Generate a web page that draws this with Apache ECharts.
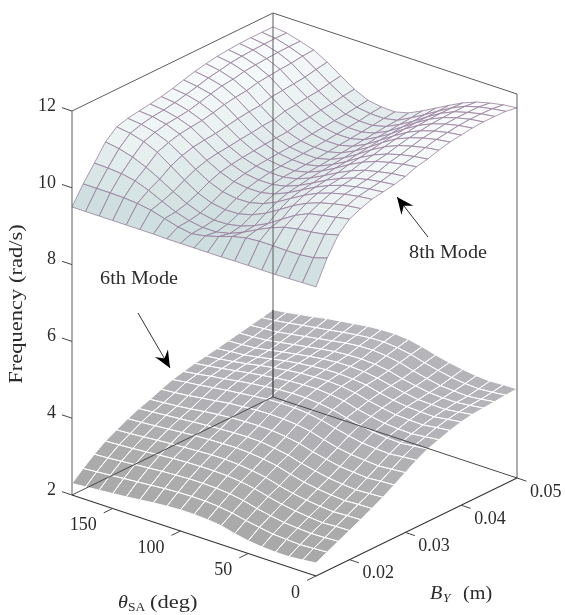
<!DOCTYPE html>
<html>
<head>
<meta charset="utf-8">
<title>Frequency surfaces</title>
<script src="https://cdn.jsdelivr.net/npm/echarts@6/dist/echarts.min.js"></script>
<style>
html,body{margin:0;padding:0;background:#fff}
#main{width:565px;height:615px}
</style>
</head>
<body>
<div id="main"></div>
<script>
// grid of the two surfaces
var thetaValues = [0,10,20,30,40,50,60,70,80,90,100,110,120,130,140,150,160,170,180];
var byValues = [0.014,0.016,0.018,0.02,0.022,0.024,0.026,0.028,0.03,0.032,0.034,0.036,0.038,0.04,0.042,0.044,0.046,0.048,0.05];

// frequency, one row per byValues entry, one column per thetaValues entry
var mode8 = [
[9.53,9.52,9.51,9.5,9.5,9.5,9.5,9.49,9.49,9.49,9.49,9.49,9.5,9.5,9.5,9.5,9.5,9.5,9.5],
[10.14,10.03,9.99,9.98,9.99,9.99,9.96,9.88,9.76,9.66,9.6,9.66,9.76,9.86,9.92,9.95,9.96,9.96,9.96],
[10.6,10.5,10.44,10.4,10.33,10.2,10.03,9.85,9.7,9.62,9.62,9.68,9.79,9.95,10.12,10.25,10.32,10.35,10.36],
[10.87,10.8,10.73,10.66,10.5,10.28,10.05,9.88,9.75,9.68,9.67,9.74,9.87,10.06,10.27,10.46,10.61,10.71,10.77],
[11.0,10.96,10.89,10.8,10.67,10.49,10.27,10.06,9.9,9.81,9.8,9.86,10.0,10.22,10.47,10.71,10.87,10.97,11.02],
[11.1,11.06,11.0,10.91,10.79,10.62,10.42,10.21,10.05,9.96,9.95,10.01,10.15,10.36,10.6,10.82,10.97,11.06,11.1],
[11.15,11.11,11.05,10.97,10.85,10.69,10.5,10.31,10.16,10.08,10.08,10.13,10.26,10.45,10.68,10.9,11.04,11.12,11.15],
[11.2,11.16,11.1,11.02,10.89,10.73,10.54,10.36,10.22,10.15,10.15,10.2,10.32,10.5,10.72,10.94,11.07,11.15,11.19],
[11.27,11.23,11.16,11.08,10.95,10.78,10.59,10.41,10.27,10.2,10.2,10.25,10.36,10.53,10.75,10.97,11.11,11.2,11.24],
[11.38,11.33,11.26,11.17,11.03,10.85,10.64,10.45,10.3,10.22,10.23,10.28,10.39,10.57,10.8,11.03,11.18,11.27,11.31],
[11.44,11.39,11.32,11.22,11.08,10.89,10.67,10.48,10.32,10.24,10.25,10.3,10.42,10.6,10.85,11.1,11.26,11.34,11.39],
[11.53,11.48,11.4,11.3,11.15,10.95,10.72,10.51,10.35,10.26,10.27,10.32,10.44,10.64,10.89,11.15,11.33,11.42,11.47],
[11.6,11.55,11.47,11.36,11.21,11.0,10.76,10.55,10.38,10.29,10.29,10.34,10.46,10.66,10.91,11.18,11.36,11.47,11.53],
[11.64,11.59,11.51,11.4,11.24,11.03,10.8,10.58,10.41,10.32,10.32,10.38,10.53,10.74,10.99,11.25,11.42,11.53,11.58],
[11.68,11.63,11.55,11.44,11.28,11.07,10.83,10.62,10.44,10.35,10.35,10.41,10.56,10.77,11.02,11.28,11.45,11.56,11.61],
[11.7,11.65,11.57,11.46,11.3,11.09,10.86,10.64,10.47,10.38,10.38,10.44,10.6,10.81,11.05,11.31,11.47,11.58,11.63],
[11.7,11.65,11.57,11.47,11.31,11.1,10.87,10.67,10.5,10.41,10.41,10.47,10.63,10.84,11.08,11.33,11.49,11.59,11.64],
[11.69,11.64,11.57,11.47,11.31,11.11,10.9,10.7,10.52,10.45,10.46,10.51,10.68,10.9,11.14,11.37,11.5,11.6,11.64],
[11.64,11.6,11.53,11.44,11.3,11.12,10.93,10.74,10.57,10.48,10.49,10.55,10.72,10.95,11.19,11.39,11.5,11.6,11.64]
];
var mode6 = [
[2.34,2.3,2.27,2.27,2.29,2.33,2.4,2.49,2.53,2.55,2.55,2.53,2.5,2.46,2.42,2.39,2.36,2.33,2.3],
[2.48,2.46,2.44,2.46,2.48,2.54,2.6,2.68,2.73,2.755,2.76,2.75,2.73,2.7,2.67,2.64,2.61,2.58,2.55],
[2.62,2.6,2.59,2.61,2.64,2.7,2.77,2.86,2.92,2.95,2.96,2.96,2.94,2.92,2.89,2.86,2.83,2.8,2.78],
[2.76,2.75,2.73,2.76,2.8,2.86,2.94,3.03,3.09,3.13,3.14,3.14,3.13,3.11,3.08,3.05,3.02,3.0,2.98],
[2.9,2.89,2.87,2.9,2.94,3.0,3.08,3.18,3.24,3.28,3.3,3.3,3.28,3.26,3.24,3.21,3.18,3.15,3.13],
[3.05,3.04,3.02,3.05,3.09,3.15,3.24,3.34,3.4,3.44,3.46,3.45,3.44,3.42,3.39,3.36,3.33,3.3,3.28],
[3.2,3.18,3.16,3.19,3.23,3.3,3.38,3.48,3.54,3.59,3.6,3.59,3.57,3.55,3.52,3.49,3.46,3.43,3.4],
[3.38,3.36,3.33,3.36,3.39,3.46,3.54,3.64,3.7,3.74,3.75,3.74,3.72,3.69,3.65,3.6,3.56,3.53,3.5],
[3.56,3.53,3.5,3.53,3.56,3.62,3.71,3.81,3.87,3.9,3.91,3.9,3.87,3.84,3.79,3.74,3.69,3.65,3.62],
[3.74,3.71,3.67,3.69,3.72,3.79,3.87,3.96,4.02,4.05,4.05,4.04,4.0,3.96,3.92,3.87,3.82,3.78,3.73],
[3.89,3.85,3.81,3.83,3.86,3.92,4.0,4.09,4.14,4.17,4.17,4.15,4.11,4.07,4.02,3.96,3.91,3.85,3.8],
[3.99,3.95,3.91,3.92,3.95,4.01,4.08,4.18,4.23,4.26,4.25,4.23,4.19,4.14,4.09,4.03,3.97,3.92,3.87],
[4.09,4.05,4.0,4.01,4.03,4.09,4.16,4.25,4.3,4.32,4.31,4.29,4.25,4.2,4.14,4.07,4.01,3.96,3.92],
[4.17,4.12,4.07,4.08,4.1,4.15,4.22,4.31,4.35,4.37,4.36,4.33,4.29,4.24,4.17,4.1,4.04,4.01,3.97],
[4.22,4.17,4.12,4.13,4.14,4.2,4.27,4.35,4.4,4.42,4.41,4.38,4.33,4.27,4.21,4.14,4.08,4.05,4.03],
[4.25,4.2,4.16,4.16,4.18,4.24,4.31,4.4,4.45,4.47,4.46,4.43,4.38,4.32,4.26,4.2,4.14,4.11,4.09],
[4.27,4.22,4.18,4.2,4.22,4.29,4.37,4.47,4.53,4.56,4.55,4.51,4.45,4.39,4.33,4.27,4.21,4.18,4.15],
[4.3,4.26,4.23,4.25,4.29,4.36,4.44,4.54,4.6,4.63,4.62,4.58,4.53,4.47,4.42,4.36,4.3,4.25,4.21],
[4.32,4.31,4.29,4.31,4.36,4.42,4.5,4.6,4.67,4.7,4.69,4.66,4.61,4.56,4.51,4.44,4.38,4.32,4.27]
];

var zTicks = [2,4,6,8,10,12];
var thetaTicks = [0,50,100,150];
var byTicks = [0.02,0.03,0.04,0.05];
var thetaMax = 180, byMin = 0.014, byMax = 0.05, zMin = 2, zMax = 12;

// fixed view of the box, the same idea as view(az,el) in an orthographic plot
function project(theta, by, z)
{
	var t = theta / thetaMax;
	var b = (by - byMin) / (byMax - byMin);
	return [316 - 244 * t + 201 * b, 576 - 81 * t - 98 * b - 38.4 * (z - zMin)];
}

function polyline(name, pts, color, width)
{
	return {
		name: name, type: 'line', data: pts, showSymbol: false, silent: true, clip: false,
		lineStyle: {color: color, width: width}, z: 2
	};
}

// back to front so that the folds cover properly
function surfaceCells(values)
{
	var cells = [];
	for(var i = thetaValues.length - 2; i >= 0; i--){
		for(var j = byValues.length - 2; j >= 0; j--){
			var mean = (values[j][i] + values[j][i+1] + values[j+1][i] + values[j+1][i+1]) / 4;
			cells.push([i, j, mean]);
		}
	}
	return cells;
}

function surfaceSeries(name, values, fillAlpha, stroke, width)
{
	return {
		name: name, type: 'custom', clip: false, silent: true, z: 2,
		data: surfaceCells(values),
		renderItem: function(params, api)
		{
			var i = api.value(0), j = api.value(1);
			var corners = [[i,j],[i+1,j],[i+1,j+1],[i,j+1]].map(function(c){
				return api.coord(project(thetaValues[c[0]], byValues[c[1]], values[c[1]][c[0]]));
			});
			return {
				type: 'polygon',
				shape: {points: corners},
				style: {
					fill: fillAlpha > 0 ? echarts.color.modifyAlpha(api.visual('color'), fillAlpha) : 'none',
					stroke: stroke, lineWidth: width
				}
			};
		}
	};
}

var labelFont = '"Liberation Serif", serif';
var texts = [];
function addText(x, y, text, align, size, opt)
{
	opt = opt || {};
	texts.push({x: x, y: y, text: text, align: align, size: size, italic: opt.italic, rotation: opt.rotation || 0, stretch: opt.stretch || 1});
}
zTicks.forEach(function(v){
	var p = project(thetaMax, byMin, v);
	addText(p[0] - 16, p[1] - 5, String(v), 'right', 18);
});
thetaTicks.forEach(function(v){
	var p = project(v, byMin, zMin);
	addText(p[0] - 16, p[1] + 17, String(v), 'right', 18);
});
byTicks.forEach(function(v){
	var p = project(0, v, zMin);
	addText(p[0] + 13, p[1] + 14, v.toFixed(2), 'left', 18);
});
addText(17, 304, 'Frequency (rad/s)', 'center', 18, {rotation: Math.PI / 2, stretch: 1.25});
addText(118, 603, 'θ', 'left', 18, {italic: true, stretch: 1.12});
addText(128, 608, 'SA', 'left', 12, {stretch: 1.12});
addText(150, 603, '(deg)', 'left', 18, {stretch: 1.25});
addText(430, 594, 'B', 'left', 18, {italic: true, stretch: 1.12});
addText(443, 599, 'Y', 'left', 12, {italic: true, stretch: 1.12});
addText(463, 594, '(m)', 'left', 18, {stretch: 1.12});
addText(139, 279, '6th Mode', 'center', 18, {stretch: 1.12});
addText(448, 253, '8th Mode', 'center', 18, {stretch: 1.12});

// from, tip of the two annotation arrows
var arrows = [[138,313,170,368],[428,237,397,197]];

var corner = {
	left: [thetaMax, byMin], front: [0, byMin], right: [0, byMax], back: [thetaMax, byMax]
};
function at(c, z){ return project(c[0], c[1], z); }

var series = [
	polyline('top', [at(corner.left,zMax), at(corner.back,zMax), at(corner.right,zMax)], '#5c5c5c', 1),
	polyline('left edge', [at(corner.left,zMin), at(corner.left,zMax)], '#5c5c5c', 1),
	polyline('right edge', [at(corner.right,zMin), at(corner.right,zMax)], '#5c5c5c', 1),
	polyline('back edge', [at(corner.back,zMin), at(corner.back,zMax)], '#5c5c5c', 1),
	surfaceSeries('8th Mode', mode8, 0.72, '#9a7f9e', 0.8),
	surfaceSeries('6th Mode', mode6, 1, 'none', 0),
	polyline('floor', [at(corner.left,zMin), at(corner.back,zMin), at(corner.right,zMin)], '#4a4a4a', 1),
	polyline('back edge low', [at(corner.back,zMin), at(corner.back,mode6[18][18])], '#4a4a4a', 1),
	surfaceSeries('6th Mode mesh', mode6, 0, '#ffffff', 0.9),
	polyline('front', [at(corner.left,zMin), at(corner.front,zMin), at(corner.right,zMin)], '#333333', 1.1)
];
zTicks.forEach(function(v){
	series.push(polyline('z tick', [project(thetaMax,byMin,v), project(thetaMax+7.4,byMin,v)], '#444444', 1));
});
thetaTicks.forEach(function(v){
	series.push(polyline('theta tick', [project(v,byMin,zMin), project(v,byMin-0.0016,zMin)], '#444444', 1));
});
byTicks.forEach(function(v){
	series.push(polyline('by tick', [project(0,v,zMin), project(-7,v,zMin)], '#444444', 1));
});
arrows.forEach(function(a){
	series.push(polyline('arrow', [[a[0],a[1]],[a[2],a[3]]], '#333333', 1));
});
series.push({
	name: 'arrow heads', type: 'custom', clip: false, silent: true, z: 3,
	data: arrows,
	renderItem: function(params, api)
	{
		var s = api.coord([api.value(0), api.value(1)]), e = api.coord([api.value(2), api.value(3)]);
		var len = Math.sqrt((e[0]-s[0])*(e[0]-s[0]) + (e[1]-s[1])*(e[1]-s[1]));
		var ux = (e[0]-s[0]) / len, uy = (e[1]-s[1]) / len;
		return {
			type: 'polygon',
			shape: {points: [
				e,
				[e[0]-17*ux-7.5*uy, e[1]-17*uy+7.5*ux],
				[e[0]-11*ux, e[1]-11*uy],
				[e[0]-17*ux+7.5*uy, e[1]-17*uy-7.5*ux]
			]},
			style: {fill: '#000000'}
		};
	}
});
series.push({
	name: 'labels', type: 'custom', clip: false, silent: true, z: 4,
	data: texts.map(function(t){ return [t.x, t.y]; }),
	renderItem: function(params, api)
	{
		var t = texts[params.dataIndex];
		var p = api.coord([api.value(0), api.value(1)]);
		return {
			type: 'text', x: p[0], y: p[1], rotation: t.rotation,
			scaleX: t.stretch, scaleY: 1,
			style: {
				text: t.text, fill: '#2b2b2b', align: t.align, verticalAlign: 'middle',
				font: (t.italic ? 'italic ' : '') + t.size + 'px ' + labelFont
			}
		};
	}
});

var option = {
	animation: false,
	backgroundColor: '#ffffff',
	grid: {left: 0, right: 0, top: 0, bottom: 0},
	xAxis: {type: 'value', min: 0, max: 565, show: false},
	yAxis: {type: 'value', min: 0, max: 615, inverse: true, show: false},
	visualMap: {
		show: false, type: 'continuous', dimension: 2, min: 2, max: 12,
		seriesIndex: [4, 5],
		inRange: {color: ['#a6a6a6','#adadae','#b3b3b8','#b6b6bb','#b4b8bb','#aebcbe','#aac0c2','#a8c6c6','#c5d8d8','#e7f0f0','#ffffff']}
	},
	series: series
};

echarts.init(document.getElementById('main')).setOption(option);
</script>
</body>
</html>
